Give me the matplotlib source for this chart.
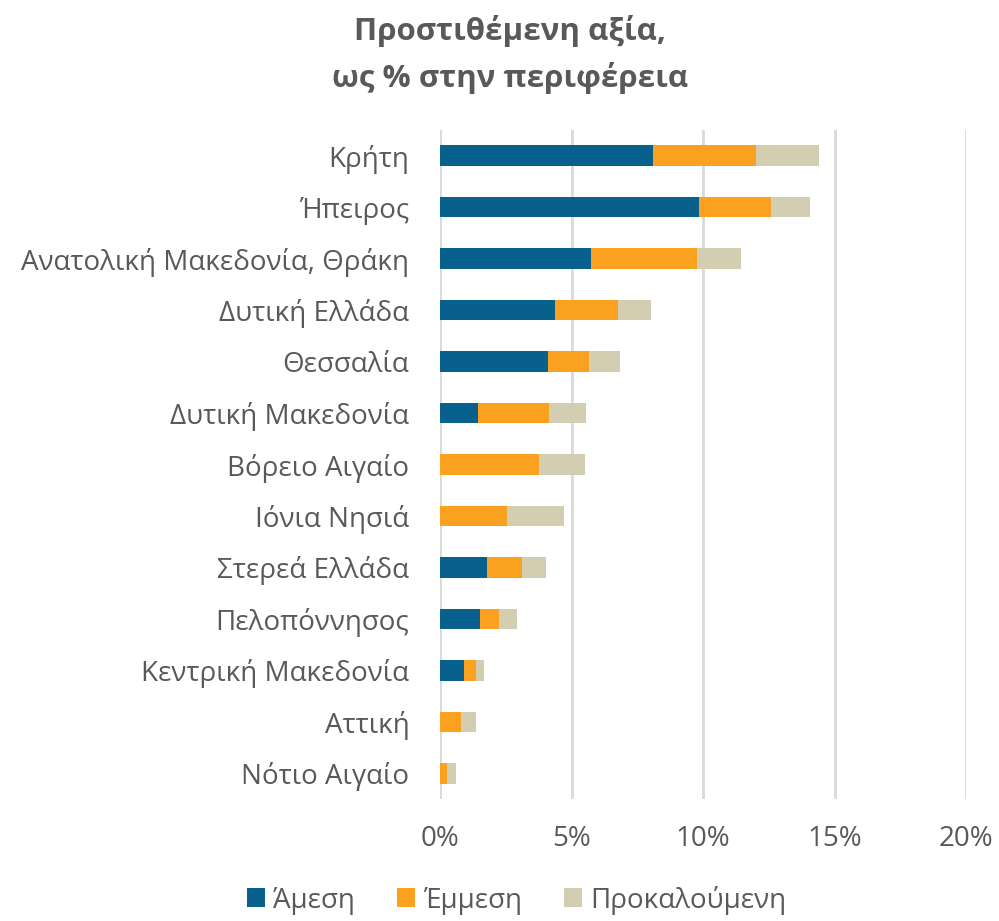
import matplotlib
matplotlib.use("Agg")
import matplotlib.pyplot as plt
from matplotlib.ticker import FuncFormatter

# Regions, top to bottom
regions = [
    "Κρήτη", "Ήπειρος", "Ανατολική Μακεδονία, Θράκη", "Δυτική Ελλάδα",
    "Θεσσαλία", "Δυτική Μακεδονία", "Βόρειο Αιγαίο", "Ιόνια Νησιά",
    "Στερεά Ελλάδα", "Πελοπόννησος", "Κεντρική Μακεδονία", "Αττική",
    "Νότιο Αιγαίο",
]
# Share of regional value added, %
direct = [8.09, 9.84, 5.76, 4.37, 4.09, 1.46, 0.0, 0.0, 1.77, 1.53, 0.90, 0.0, 0.0]
indirect = [3.94, 2.73, 4.03, 2.39, 1.56, 2.67, 3.75, 2.53, 1.34, 0.73, 0.45, 0.78, 0.25]
induced = [2.37, 1.49, 1.65, 1.27, 1.19, 1.41, 1.78, 2.19, 0.93, 0.66, 0.33, 0.60, 0.37]

series_names = ["Άμεση", "Έμμεση", "Προκαλούμενη"]
colors = ["#08618C", "#FAA21F", "#D3CEB1"]
xticks = [0, 5, 10, 15, 20]

TEXT = "#595959"
GRID = "#D9D9D9"
plt.rcParams["font.family"] = ["Open Sans", "DejaVu Sans"]

fig = plt.figure(figsize=(9.99, 9.21), dpi=100)
ax = fig.add_axes([440 / 999, 1 - 799 / 921, (966 - 440) / 999, (799 - 130) / 921])

y = list(range(len(regions)))
left = [0.0] * len(regions)
handles = []
for vals, name, col in zip([direct, indirect, induced], series_names, colors):
    h = ax.barh(y, vals, left=left, height=0.4, color=col, label=name, zorder=3)
    handles.append(h)
    left = [a + b for a, b in zip(left, vals)]

ax.set_ylim(len(regions) - 0.5, -0.5)
ax.set_xlim(0, 20)
ax.set_yticks(y)
ax.set_yticklabels(regions)
ax.set_xticks(xticks)
ax.xaxis.set_major_formatter(FuncFormatter(lambda v, _: f"{v:.0f}%"))
ax.tick_params(axis="both", length=0, colors=TEXT, labelsize=20)
ax.tick_params(axis="x", pad=19)
ax.tick_params(axis="y", pad=22)
ax.grid(axis="x", color=GRID, linewidth=2, zorder=0)
for s in ax.spines.values():
    s.set_visible(False)

fig.text(0.511, 1 - 31 / 921, "Προστιθέμενη αξία,", ha="center", va="center",
         fontsize=22.5, fontweight="bold", color=TEXT)
fig.text(0.511, 1 - 78 / 921, "ως % στην περιφέρεια", ha="center", va="center",
         fontsize=22.5, fontweight="bold", color=TEXT)

leg = fig.legend(handles=handles, labels=series_names, loc="center",
                 bbox_to_anchor=(0.517, 1 - 900 / 921), ncol=3, frameon=False,
                 fontsize=20, handlelength=0.65, handleheight=0.65,
                 handletextpad=0.3, columnspacing=1.5)
for t in leg.get_texts():
    t.set_color(TEXT)

fig.savefig("out.png", dpi=100)
